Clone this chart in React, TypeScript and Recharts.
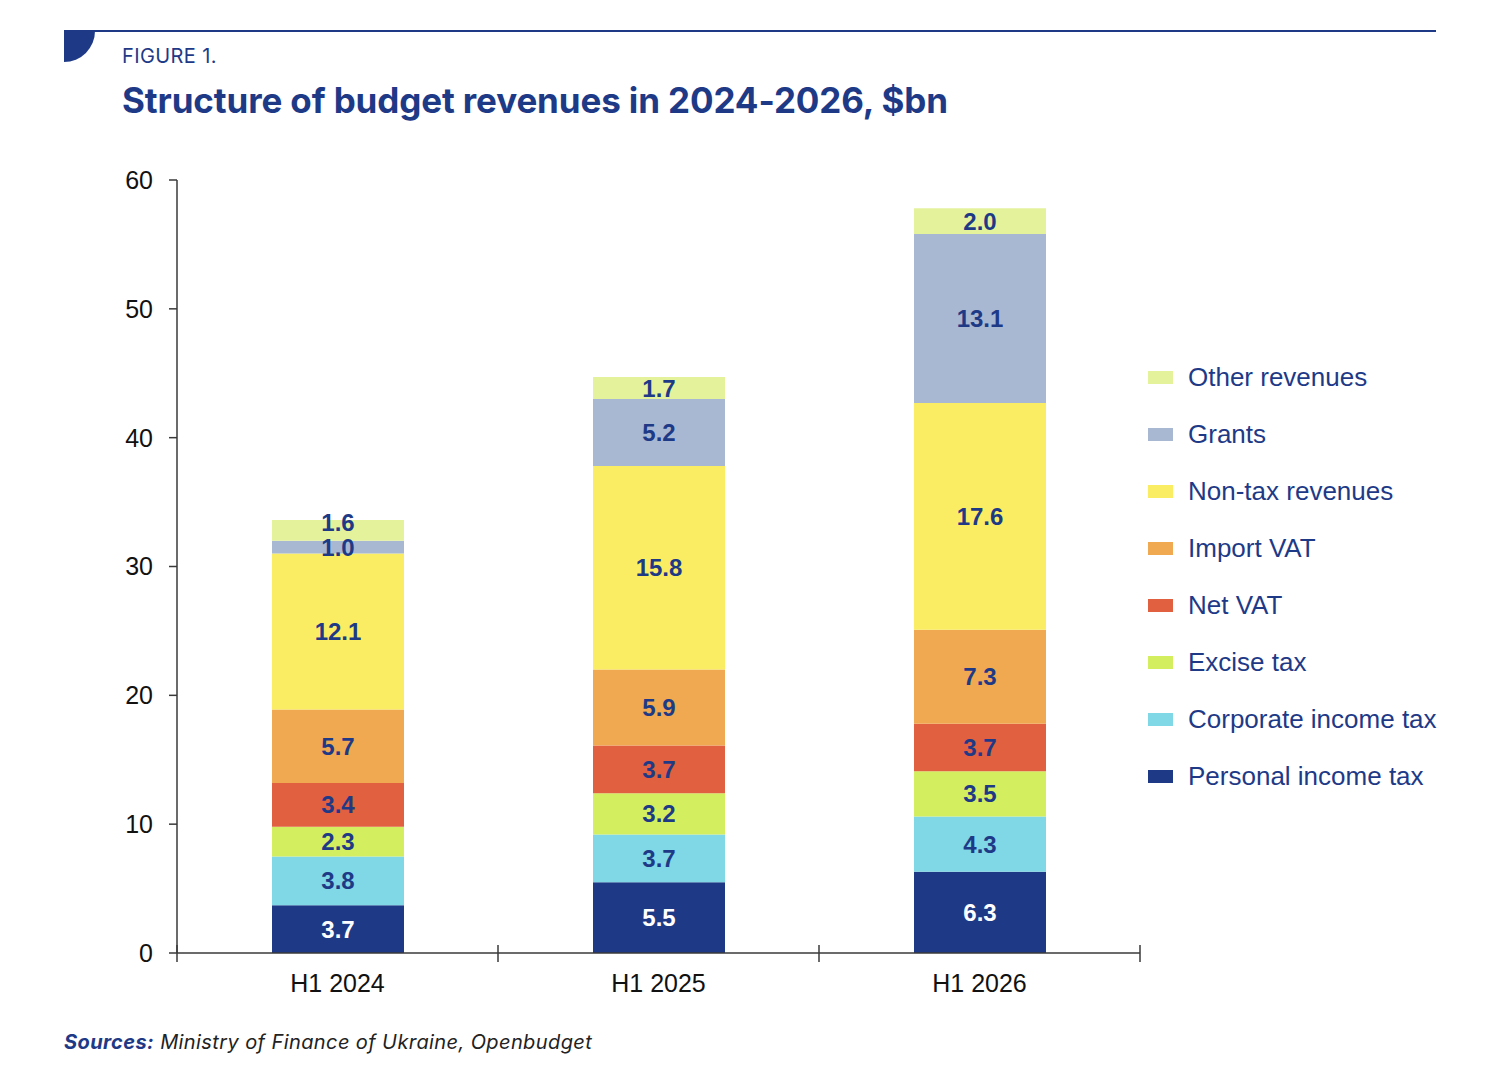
import React from 'react';
import { BarChart, Bar, XAxis, YAxis, LabelList, Legend } from 'recharts';

const periods = ['H1 2024', 'H1 2025', 'H1 2026'];

// series, bottom to top
const personalIncomeTax = [3.7, 5.5, 6.3];
const corporateIncomeTax = [3.8, 3.7, 4.3];
const exciseTax = [2.3, 3.2, 3.5];
const netVat = [3.4, 3.7, 3.7];
const importVat = [5.7, 5.9, 7.3];
const nonTaxRevenues = [12.1, 15.8, 17.6];
const grants = [1.0, 5.2, 13.1];
const otherRevenues = [1.6, 1.7, 2.0];

const yTicks = [0, 10, 20, 30, 40, 50, 60];

const NAVY = '#1e3a87';

const series = [
  { key: 'pit', name: 'Personal income tax', values: personalIncomeTax, color: '#1e3a87', label: '#ffffff' },
  { key: 'cit', name: 'Corporate income tax', values: corporateIncomeTax, color: '#80d7e5', label: NAVY },
  { key: 'excise', name: 'Excise tax', values: exciseTax, color: '#d3ef60', label: NAVY },
  { key: 'netVat', name: 'Net VAT', values: netVat, color: '#e1603f', label: NAVY },
  { key: 'importVat', name: 'Import VAT', values: importVat, color: '#f0a851', label: NAVY },
  { key: 'nonTax', name: 'Non-tax revenues', values: nonTaxRevenues, color: '#fbed63', label: NAVY },
  { key: 'grants', name: 'Grants', values: grants, color: '#a8b7d2', label: NAVY },
  { key: 'other', name: 'Other revenues', values: otherRevenues, color: '#e4f29c', label: NAVY },
];

const data = periods.map((period, i) => {
  const row: Record<string, string | number> = { period };
  series.forEach((s) => {
    row[s.key] = s.values[i];
  });
  return row;
});

const PLOT_LEFT = 177;
const PLOT_RIGHT = 1140;
const BAND = (PLOT_RIGHT - PLOT_LEFT) / periods.length;
const AXIS = '#3a3a3a';
const TICK_FONT = '"Liberation Sans", Arial, sans-serif';

const XTick = (props: any) => {
  const { x, y, payload, index } = props;
  const half = BAND / 2;
  return (
    <g>
      <line x1={x - half} x2={x - half} y1={y - 8} y2={y + 9} stroke={AXIS} strokeWidth={1.5} />
      {index === periods.length - 1 && (
        <line x1={x + half} x2={x + half} y1={y - 8} y2={y + 9} stroke={AXIS} strokeWidth={1.5} />
      )}
      <text x={x} y={y + 39} textAnchor="middle" fontSize={25} fontFamily={TICK_FONT} fill="#111">
        {payload.value}
      </text>
    </g>
  );
};

// centred value label; when the slice below is very thin the label is nudged up a little
const makeLabel = (seriesIndex: number) => (props: any) => {
  const { x, y, width, height, value, index } = props;
  const s = series[seriesIndex];
  const below = seriesIndex > 0 ? series[seriesIndex - 1].values[index] : Infinity;
  const dy = seriesIndex === series.length - 1 && below < 1.5 ? -8 : 0;
  return (
    <text
      x={x + width / 2}
      y={y + height / 2 + dy}
      textAnchor="middle"
      dominantBaseline="central"
      fill={s.label}
      fontSize={24}
      fontWeight={700}
      fontFamily={TICK_FONT}
    >
      {Number(value).toFixed(1)}
    </text>
  );
};

const LegendContent = () => {
  const items = [...series].reverse();
  return (
    <div>
      {items.map((item) => (
        <div key={item.key} style={{ display: 'flex', alignItems: 'center', height: 57 }}>
          <span style={{ width: 25, height: 13, background: item.color, marginRight: 15 }} />
          <span style={{ fontSize: 26, color: NAVY, fontFamily: TICK_FONT, whiteSpace: 'nowrap' }}>
            {item.name}
          </span>
        </div>
      ))}
    </div>
  );
};

export default function App() {
  return (
    <div style={{ position: 'absolute', left: 0, top: 0, width: 1506, height: 1080, background: '#fff' }}>
      <svg width={1506} height={70} style={{ position: 'absolute', left: 0, top: 0 }}>
        <rect x={64} y={30} width={1372} height={2} fill={NAVY} />
        <path d="M64 31 H95 A31 31 0 0 1 64 62 Z" fill={NAVY} />
      </svg>
      <div
        style={{
          position: 'absolute',
          left: 122,
          top: 44,
          fontFamily: 'Inter, sans-serif',
          fontSize: 20,
          color: NAVY,
          letterSpacing: 0.4,
        }}
      >
        FIGURE 1.
      </div>
      <div
        style={{
          position: 'absolute',
          left: 122,
          top: 79,
          fontFamily: 'Inter, sans-serif',
          fontWeight: 700,
          fontSize: 35,
          color: NAVY,
          letterSpacing: -0.12,
          whiteSpace: 'nowrap',
        }}
      >
        Structure of budget revenues in 2024-2026, $bn
      </div>

      <BarChart
        width={1506}
        height={1080}
        data={data}
        margin={{ top: 180, right: 366, bottom: 67, left: 117 }}
        style={{ position: 'absolute', left: 0, top: 0 }}
      >
        <XAxis
          dataKey="period"
          height={60}
          axisLine={{ stroke: AXIS, strokeWidth: 1.5 }}
          tickLine={false}
          tickSize={0}
          tickMargin={0}
          tick={<XTick />}
          interval={0}
        />
        <YAxis
          width={60}
          domain={[0, 60]}
          ticks={yTicks}
          interval={0}
          axisLine={{ stroke: AXIS, strokeWidth: 1.5 }}
          tickLine={{ stroke: AXIS, strokeWidth: 1.5 }}
          tickSize={8}
          tickMargin={16}
          tick={{ fontSize: 25, fontFamily: TICK_FONT, fill: '#111' }}
        />
        <Legend
          layout="vertical"
          align="center"
          verticalAlign="middle"
          content={<LegendContent />}
          wrapperStyle={{ left: 1148, top: 349, width: 320 }}
        />
        {series.map((s, i) => (
          <Bar
            key={s.key}
            dataKey={s.key}
            name={s.name}
            stackId="rev"
            fill={s.color}
            barSize={132}
            isAnimationActive={false}
          >
            <LabelList dataKey={s.key} content={makeLabel(i)} />
          </Bar>
        ))}
      </BarChart>

      <div
        style={{
          position: 'absolute',
          left: 64,
          top: 1030,
          fontFamily: 'Inter, sans-serif',
          fontStyle: 'italic',
          fontSize: 20,
          color: '#222',
          letterSpacing: 0.4,
          whiteSpace: 'nowrap',
        }}
      >
        <span style={{ fontWeight: 700, color: NAVY }}>Sources:</span> Ministry of Finance of Ukraine, Openbudget
      </div>
    </div>
  );
}
